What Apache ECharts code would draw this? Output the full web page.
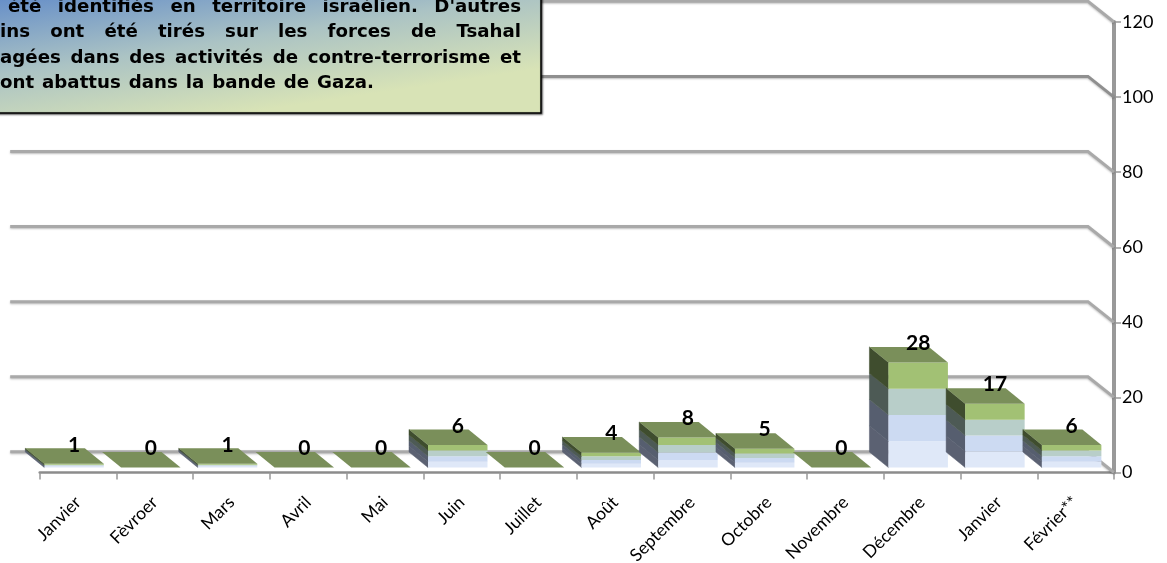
<!DOCTYPE html>
<html>
<head>
<meta charset="utf-8">
<style>html,body{margin:0;padding:0;background:#fff}#chart{width:1167px;height:563px}</style>
<script src="https://cdn.jsdelivr.net/npm/echarts@6/dist/echarts.min.js"></script>
</head>
<body>
<div id="chart"></div>
<script>
// mois et valeurs
var categories = ['Janvier', 'Fèvroer', 'Mars', 'Avril', 'Mai', 'Juin', 'Juillet', 'Août', 'Septembre', 'Octobre', 'Novembre', 'Décembre', 'Janvier', 'Février**'];
var totals = [1, 0, 1, 0, 0, 6, 0, 4, 8, 5, 0, 28, 17, 6];
// les quatre bandes de chaque barre, du bas vers le haut
var band1 = [0.25, 0, 0.25, 0, 0, 1.5, 0, 1, 2, 1.25, 0, 7, 4.25, 1.5];
var band2 = [0.25, 0, 0.25, 0, 0, 1.5, 0, 1, 2, 1.25, 0, 7, 4.25, 1.5];
var band3 = [0.25, 0, 0.25, 0, 0, 1.5, 0, 1, 2, 1.25, 0, 7, 4.25, 1.5];
var band4 = [0.25, 0, 0.25, 0, 0, 1.5, 0, 1, 2, 1.25, 0, 7, 4.25, 1.5];
var wallTicks = [0, 20, 40, 60, 80, 100, 120];
var noteLines = [
    'été identifiés en territoire israélien. D\'autres',
    'ins ont été tirés sur les forces de Tsahal',
    'agées dans des activités de contre-terrorisme et',
    'ont abattus dans la bande de Gaza.'
];

var frontColors = ['#dfe8f8', '#ccdaf2', '#b8cec9', '#a2c174'];
var sideColors = ['#5b6172', '#565e6f', '#4d5a55', '#3f4d2e'];
var topColor = '#7a8f5a';
var depthX = 19, depthY = 15.5, barWidth = 59.5, barShift = -4, floorLift = 5;

var myChart = echarts.init(document.getElementById('chart'));

function renderWall(params, api) {
    var cs = params.coordSys;
    var y = api.coord([0, api.value(1)])[1];
    var right = cs.x + cs.width;
    return {
        type: 'polyline',
        shape: { points: [[cs.x - 29.5, y - 20.7], [right - 26, y - 20.7], [right, y]] },
        style: {
            fill: null,
            stroke: api.value(1) === 100 ? '#8f8f8f' : '#a9a9a9',
            lineWidth: 3,
            shadowColor: 'rgba(0,0,0,0.25)',
            shadowBlur: 2,
            shadowOffsetY: 1
        }
    };
}

function renderBar(params, api) {
    var base = api.coord([api.value(0), 0]);
    var left = base[0] + barShift - barWidth / 2;
    var y = base[1] - floorLift;
    var children = [];
    for (var i = 0; i < 4; i++) {
        var h = api.size([0, api.value(i + 1)])[1];
        if (h <= 0) continue;
        children.push({
            type: 'polygon',
            shape: { points: [[left, y], [left - depthX, y - depthY], [left - depthX, y - depthY - h], [left, y - h]] },
            style: { fill: sideColors[i], stroke: sideColors[i], lineWidth: 0.5 }
        });
        children.push({
            type: 'rect',
            shape: { x: left, y: y - h, width: barWidth, height: h },
            style: { fill: frontColors[i] }
        });
        y -= h;
    }
    children.push({
        type: 'polygon',
        shape: { points: [[left, y], [left + barWidth, y], [left + barWidth - depthX, y - depthY], [left - depthX, y - depthY]] },
        style: { fill: topColor }
    });
    return { type: 'group', children: children };
}

function renderTotal(params, api) {
    var base = api.coord([api.value(0), 0]);
    var h = api.size([0, api.value(1)])[1];
    return {
        type: 'text',
        style: {
            x: base[0] + barShift,
            y: base[1] - floorLift - h - depthY - 3.5,
            text: String(api.value(1)),
            align: 'center',
            verticalAlign: 'middle',
            fill: '#000',
            font: 'bold 21px Lato'
        }
    };
}

// texte justifié de l'encadré, mot par mot
var ruler = document.createElement('canvas').getContext('2d');
var noteFont = 'bold 18.2px "DejaVu Sans"';
ruler.font = noteFont;
var noteStart = [8, 0, 0, 0];
var noteRight = [521, 521, 521, 374];
var noteY = [7, 32, 58, 83];
var noteText = [];
noteLines.forEach(function (line, n) {
    var words = line.split(' ');
    var used = 0;
    words.forEach(function (w) { used += ruler.measureText(w).width; });
    var gap = (noteRight[n] - noteStart[n] - used) / (words.length - 1);
    var x = noteStart[n];
    words.forEach(function (w) {
        noteText.push({
            type: 'text',
            z: 101,
            style: { x: x, y: noteY[n], text: w, font: noteFont, fill: '#000', verticalAlign: 'middle' }
        });
        x += ruler.measureText(w).width + gap;
    });
});

var option = {
    animation: false,
    textStyle: { fontFamily: 'Lato' },
    grid: { left: 39.7, right: 53, top: 22, bottom: 90.5, containLabel: false, outerBoundsMode: 'none' },
    xAxis: {
        type: 'category',
        data: categories,
        axisLine: { lineStyle: { color: '#8c8c8c', width: 2.5 } },
        axisTick: { show: true, length: 7, lineStyle: { color: '#999', width: 1.5 } },
        axisLabel: { rotate: 45, interval: 0, color: '#000', fontSize: 17.5, margin: 27, fontFamily: 'Lato' }
    },
    yAxis: {
        type: 'value',
        position: 'right',
        min: 0,
        max: 120,
        interval: 20,
        splitLine: { show: false },
        axisLine: { show: true, lineStyle: { color: '#999', width: 4 } },
        axisTick: { show: true, length: 7, lineStyle: { color: '#999', width: 1.5 } },
        axisLabel: { color: '#000', fontSize: 18, margin: 8, fontFamily: 'Lato' }
    },
    graphic: [{
        type: 'rect',
        z: 100,
        shape: { x: -12, y: -12, width: 553, height: 125 },
        style: {
            fill: new echarts.graphic.LinearGradient(0, 0, 21.8, 146, [
                { offset: 0, color: '#6890c8' },
                { offset: 0.5, color: '#abc3c4' },
                { offset: 1, color: '#d8e3b6' }
            ], true),
            stroke: '#000',
            lineWidth: 1.5,
            shadowColor: 'rgba(0,0,0,0.6)',
            shadowBlur: 2,
            shadowOffsetX: 1,
            shadowOffsetY: 1
        }
    }].concat(noteText),
    series: [
        {
            type: 'custom',
            name: 'mur',
            z: 1,
            clip: false,
            renderItem: renderWall,
            encode: { x: 0, y: 1 },
            data: wallTicks.map(function (t) { return [0, t]; })
        },
        {
            type: 'custom',
            name: 'barres',
            z: 2,
            clip: false,
            renderItem: renderBar,
            encode: { x: 0, y: [1, 2, 3, 4] },
            data: categories.map(function (c, i) { return [i, band1[i], band2[i], band3[i], band4[i]]; })
        },
        {
            type: 'custom',
            name: 'totaux',
            z: 3,
            clip: false,
            renderItem: renderTotal,
            encode: { x: 0, y: 1 },
            data: categories.map(function (c, i) { return [i, totals[i]]; })
        }
    ]
};

myChart.setOption(option);
</script>
</body>
</html>
